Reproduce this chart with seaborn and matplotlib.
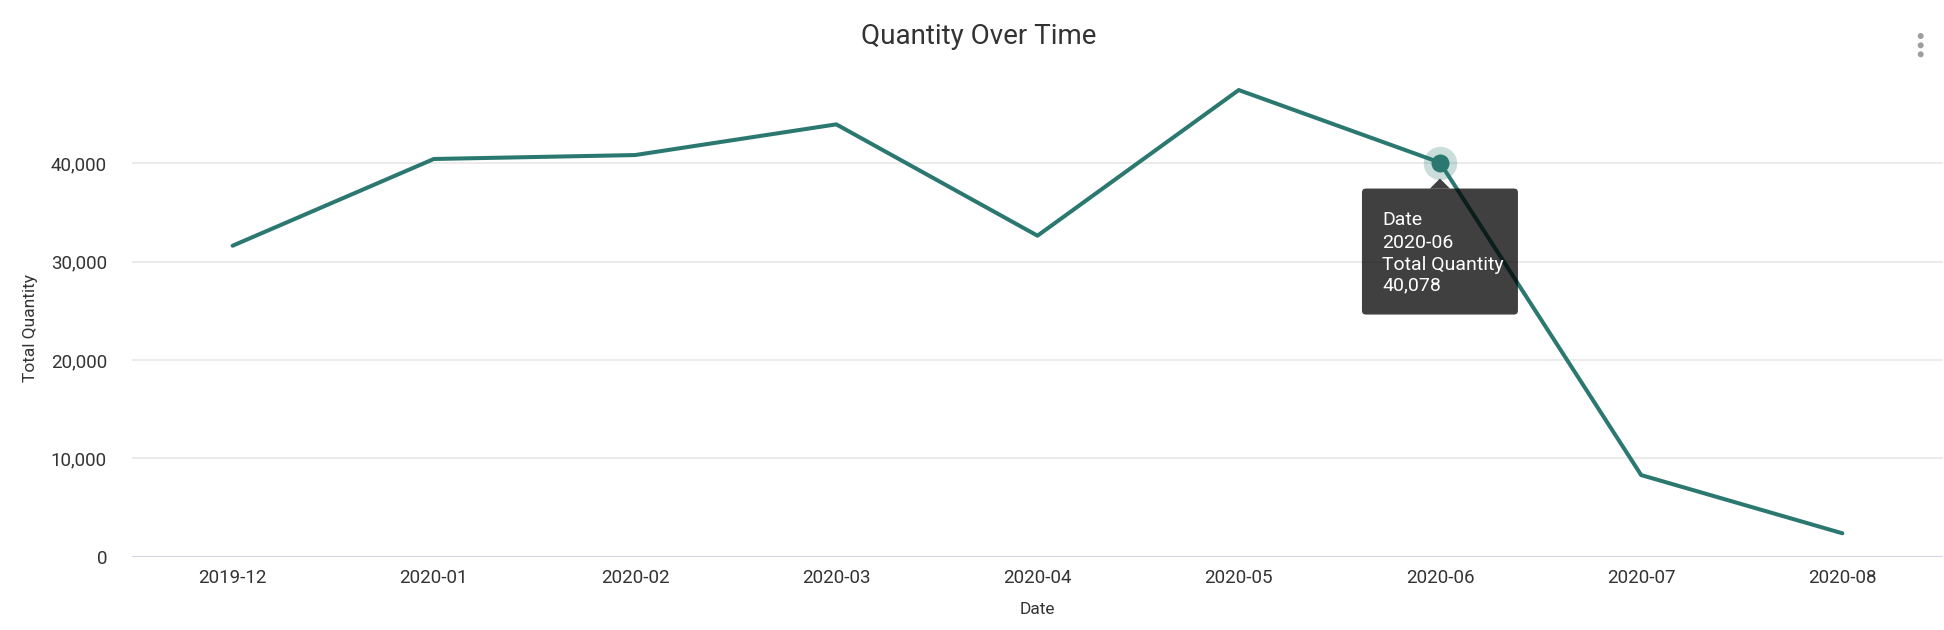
import matplotlib
matplotlib.use("Agg")
import matplotlib.pyplot as plt
import matplotlib.transforms as mtransforms
from matplotlib.patches import FancyBboxPatch, Polygon, Circle
from matplotlib.ticker import FuncFormatter
import seaborn as sns
import pandas as pd

dates = ["2019-12", "2020-01", "2020-02", "2020-03", "2020-04",
         "2020-05", "2020-06", "2020-07", "2020-08"]
quantities = [31620, 40440, 40840, 43960, 32640, 47450, 40078, 8300, 2380]
y_ticks = [0, 10000, 20000, 30000, 40000]
highlight_date = "2020-06"

LINE = "#2a7870"
TEXT = "#333333"

sns.set_theme(style="white")
plt.rcParams["font.family"] = ["Roboto", "DejaVu Sans"]

df = pd.DataFrame({"Date": dates, "Total Quantity": quantities})

fig = plt.figure(figsize=(19.44, 6.30), dpi=100)
ax = fig.add_axes([132 / 1944, (630 - 556.7) / 630, 1811 / 1944, 481.9 / 630])

# grid
for t in y_ticks:
    ax.axhline(t, color="#e6e6e6", lw=1.1, zorder=0)
ax.axhline(0, color="#d3d5e6", lw=1.5, zorder=1)

sns.lineplot(data=df, x="Date", y="Total Quantity", ax=ax, color=LINE,
             lw=2.9, sort=False, zorder=3, solid_capstyle="round")

ax.set_xlim(-0.5, len(dates) - 0.5)
ax.set_ylim(0, 49000)
ax.set_yticks(y_ticks)
ax.yaxis.set_major_formatter(FuncFormatter(lambda v, p: f"{int(v):,}"))
for s in ax.spines.values():
    s.set_visible(False)
ax.tick_params(axis="both", length=0, labelsize=13.5, labelcolor=TEXT)
ax.tick_params(axis="y", pad=18)
ax.tick_params(axis="x", pad=9)
ax.grid(False)

ax.set_xlabel("Date", fontsize=12.5, color=TEXT)
ax.set_ylabel("Total Quantity", fontsize=12.5, color=TEXT)
ax.xaxis.set_label_coords(0.5, -0.095)
ax.yaxis.set_label_coords(-0.052, 0.475)

fig.text(979 / 1944, (630 - 44.3) / 630, "Quantity Over Time", ha="center",
         va="baseline", fontsize=20, color=TEXT)

# highlighted point + tooltip
hi = dates.index(highlight_date)
hv = quantities[hi]
ax.scatter([hi], [hv], s=(16.7 * 2 * 0.72) ** 2, color=LINE, alpha=0.25,
           zorder=4, linewidths=0)
ax.scatter([hi], [hv], s=(9 * 2 * 0.72) ** 2, color=LINE, zorder=5,
           linewidths=0)

fig.canvas.draw()
px, py = ax.transData.transform((hi, hv))
ident = mtransforms.IdentityTransform()
box = FancyBboxPatch((px - 78, py - 152), 156, 126,
                     boxstyle="round,pad=0,rounding_size=4",
                     transform=ident, facecolor="black", alpha=0.75,
                     edgecolor="none", zorder=10)
fig.add_artist(box)
tri = Polygon([[px - 10, py - 26], [px + 10, py - 26], [px, py - 16]],
              closed=True, transform=ident, facecolor="black", alpha=0.75,
              edgecolor="none", zorder=10)
fig.add_artist(tri)
tip_lines = ["Date", highlight_date, "Total Quantity", f"{hv:,}"]
for i, (txt, dy) in enumerate(zip(tip_lines, [62, 85, 107, 128])):
    fig.text(px - 58, py - dy, txt, transform=ident, color="white",
             fontsize=14, ha="left", va="baseline", zorder=11)

# menu dots
for yy in [36, 45.3, 54.3]:
    fig.add_artist(Circle((1920.7, 630 - yy), 3, transform=ident,
                          facecolor="#9e9e9e", edgecolor="none"))

fig.savefig("out.png", dpi=100)
